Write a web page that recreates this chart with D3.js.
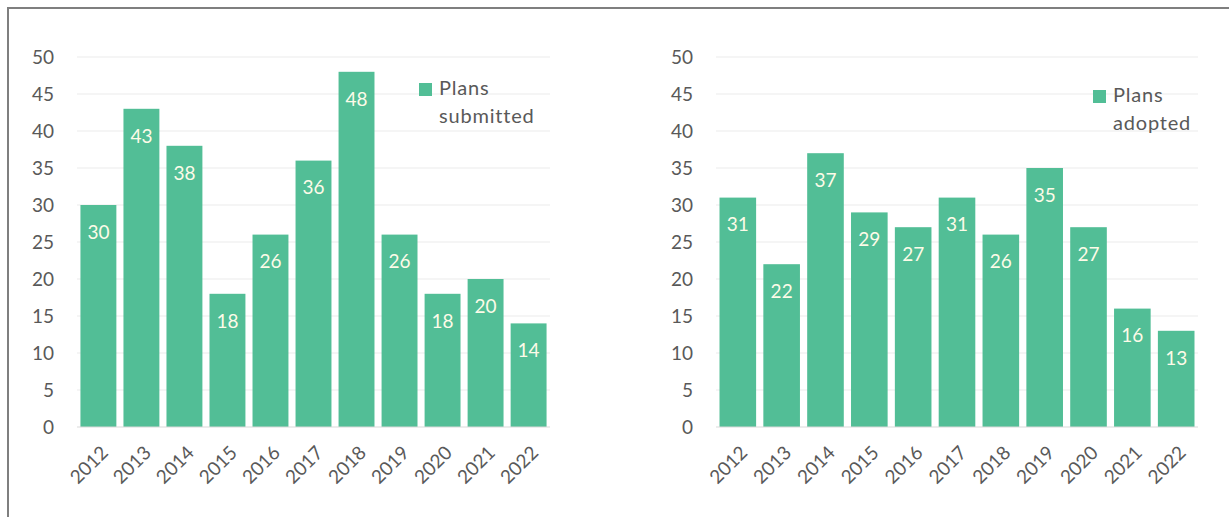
<!DOCTYPE html>
<html>
<head>
<meta charset="utf-8">
<script src="https://cdn.jsdelivr.net/npm/d3@7"></script>
<style>
  body { margin: 0; background: #fff; }
  text { font-family: Lato, "Open Sans", sans-serif; }
</style>
</head>
<body>
<svg id="chart" width="1229" height="517"></svg>
<script>
// values
const years = ["2012", "2013", "2014", "2015", "2016", "2017", "2018", "2019", "2020", "2021", "2022"];
const submitted = [30, 43, 38, 18, 26, 36, 48, 26, 18, 20, 14];
const adopted = [31, 22, 37, 29, 27, 31, 26, 35, 27, 16, 13];
const yTicks = [0, 5, 10, 15, 20, 25, 30, 35, 40, 45, 50];

const svg = d3.select("#chart");
const barColor = "#52be96";

// outer frame (only left and top edge are visible)
svg.append("path")
  .attr("d", "M8,517 L8,8 L1229,8")
  .attr("fill", "none")
  .attr("stroke", "#7f7f7f")
  .attr("stroke-width", 2);

function drawChart(cfg, values) {
  const g = svg.append("g");

  const x = d3.scaleBand()
    .domain(years)
    .range([cfg.left, cfg.right])
    .paddingInner(0.165)
    .paddingOuter(0.08);

  const y = d3.scaleLinear()
    .domain([0, 50])
    .range([427, 57]);

  // gridlines
  g.selectAll(".grid")
    .data(yTicks.filter(t => t > 0))
    .join("line")
      .attr("class", "grid")
      .attr("x1", cfg.left)
      .attr("x2", cfg.right)
      .attr("y1", d => y(d))
      .attr("y2", d => y(d))
      .attr("stroke", "#ebebeb")
      .attr("stroke-width", 1);

  // y tick labels
  g.selectAll(".ylab")
    .data(yTicks)
    .join("text")
      .attr("class", "ylab")
      .attr("x", cfg.left - 23)
      .attr("y", d => y(d))
      .attr("dy", "0.36em")
      .attr("text-anchor", "end")
      .attr("fill", "#595959")
      .attr("font-size", 19)
      .text(d => d);

  // bars
  g.selectAll(".bar")
    .data(values)
    .join("rect")
      .attr("class", "bar")
      .attr("x", (d, i) => x(years[i]))
      .attr("width", x.bandwidth())
      .attr("y", d => y(d))
      .attr("height", d => y(0) - y(d))
      .attr("fill", barColor);

  // baseline
  g.append("line")
    .attr("x1", cfg.left)
    .attr("x2", cfg.right)
    .attr("y1", y(0))
    .attr("y2", y(0))
    .attr("stroke", "#d9d9d9")
    .attr("stroke-width", 1);

  // value labels inside bars
  g.selectAll(".val")
    .data(values)
    .join("text")
      .attr("class", "val")
      .attr("x", (d, i) => x(years[i]) + x.bandwidth() / 2)
      .attr("y", d => y(d) + 27)
      .attr("dy", "0.36em")
      .attr("text-anchor", "middle")
      .attr("fill", "#fdfbe8")
      .attr("font-size", 19)
      .text(d => d);

  // x labels rotated
  g.selectAll(".xlab")
    .data(years)
    .join("text")
      .attr("class", "xlab")
      .attr("transform", d => `translate(${x(d) + x.bandwidth() / 2 + 6},${y(0) + 22}) rotate(-45)`)
      .attr("text-anchor", "end")
      .attr("dy", "0.36em")
      .attr("fill", "#595959")
      .attr("font-size", 19)
      .text(d => d);

  // legend
  g.append("rect")
    .attr("x", cfg.legX)
    .attr("y", cfg.legY - 12)
    .attr("width", 13)
    .attr("height", 13)
    .attr("fill", barColor);

  g.selectAll(".leg")
    .data(cfg.legend)
    .join("text")
      .attr("class", "leg")
      .attr("x", cfg.legX + 20)
      .attr("y", (d, i) => cfg.legY + i * 28)
      .attr("fill", "#595959")
      .attr("font-size", 20)
      .attr("letter-spacing", 0.8)
      .text(d => d);
}

drawChart({ left: 77, right: 550, legX: 419, legY: 95, legend: ["Plans", "submitted"] }, submitted);
drawChart({ left: 716, right: 1198, legX: 1093, legY: 102, legend: ["Plans", "adopted"] }, adopted);
</script>
</body>
</html>
